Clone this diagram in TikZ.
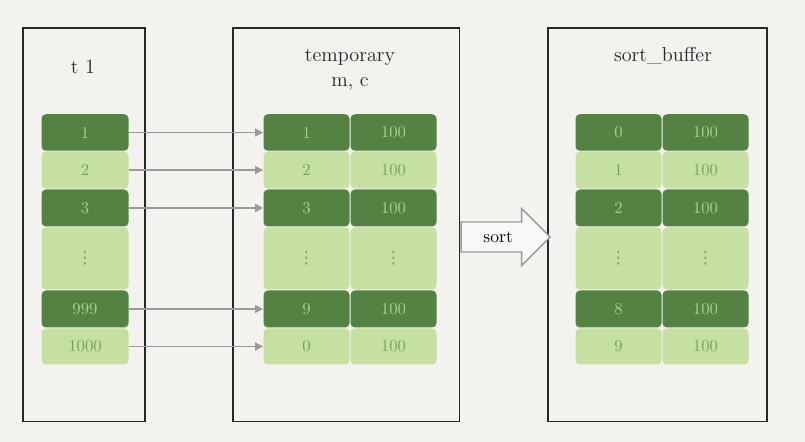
\documentclass[tikz,border=0pt]{standalone}
\usepackage{fontspec}
\usepackage{xcolor}
\usepackage{tikz}
\usetikzlibrary{positioning,arrows.meta,shapes.arrows}
\newfontfamily\dotsfont{DejaVu Sans}
\definecolor{bg}{HTML}{F3F2EE}
\definecolor{dk}{HTML}{548242}
\definecolor{lt}{HTML}{C5E0A0}
\definecolor{dktxt}{HTML}{A9D18E}
\definecolor{lttxt}{HTML}{7A9E5E}
\definecolor{gr}{HTML}{9A9A9A}

\begin{document}
\begin{tikzpicture}[
  panel/.style={draw=black!85, line width=1.1pt, fill=bg, minimum height=78.7mm},
  cell/.style={rounded corners=2.5pt, font=\fontsize{9.5}{11}\selectfont, inner sep=0pt},
  dkc/.style={cell, fill=dk, text=dktxt},
  ltc/.style={cell, fill=lt, text=lttxt},
  ttl/.style={font=\fontsize{11.5}{14}\selectfont, text=black!85, align=center},
  arr/.style={-{Triangle[length=1.6mm,width=1.6mm]}, draw=gr, line width=0.85pt},
  sortarr/.style={single arrow, draw=gr, fill=bg!50!white, line width=0.8pt, font=\fontsize{10}{12}\selectfont,
    text height=1.6ex, text depth=0.2ex, inner xsep=2pt, inner ysep=1.5mm, minimum width=11.2mm,
    minimum height=17.8mm, single arrow head extend=2.7mm}
]
\fill[bg] (0,0) rectangle (16.1,-8.84);
\useasboundingbox (0,0) rectangle (16.1,-8.84);
\node[panel, minimum width=24.4mm] (t1) at (1.68,-4.495) {};
\node[panel, minimum width=45.3mm] (tmp) at (6.925,-4.495) {};
\node[panel, minimum width=43.8mm] (sb) at (13.15,-4.495) {};
\node[ttl] (t1lab) at (1.66,-1.34) {t 1};
\node[ttl] (tmplab) at (7.0,-1.39) {temporary\\m, c};
\node[ttl] (sblab) at (13.26,-1.12) {sort\_buffer};
\foreach \r/\y/\h/\s/\a/\m/\b/\v in {1/-2.65/0.73/dkc/1/1/0/100, 2/-3.40/0.74/ltc/2/2/1/100,
    3/-4.16/0.74/dkc/3/3/2/100, 4/-5.17/1.24/ltc/{\dotsfont ⋮}/{\dotsfont ⋮}/{\dotsfont ⋮}/{\dotsfont ⋮},
    5/-6.18/0.74/dkc/999/9/8/100, 6/-6.93/0.72/ltc/1000/0/9/100} {
  \node[\s, minimum width=17.4mm, minimum height=\h cm] (a\r) at (1.70,\y) {\a};
  \node[\s, minimum width=17.2mm, minimum height=\h cm] (m\r) at (6.13,\y) {\m};
  \node[\s, minimum width=17.2mm, minimum height=\h cm] (c\r) at (7.87,\y) {\v};
  \node[\s, minimum width=17.2mm, minimum height=\h cm] (s\r) at (12.37,\y) {\b};
  \node[\s, minimum width=17.2mm, minimum height=\h cm] (v\r) at (14.11,\y) {\v};
}
\foreach \r in {1,2,3,5,6}
  \draw[arr] (a\r.east) -- (m\r.west);
\node[sortarr, anchor=tail] (sort) at ([yshift=-2.45mm]tmp.east) {sort};
\end{tikzpicture}
\end{document}
